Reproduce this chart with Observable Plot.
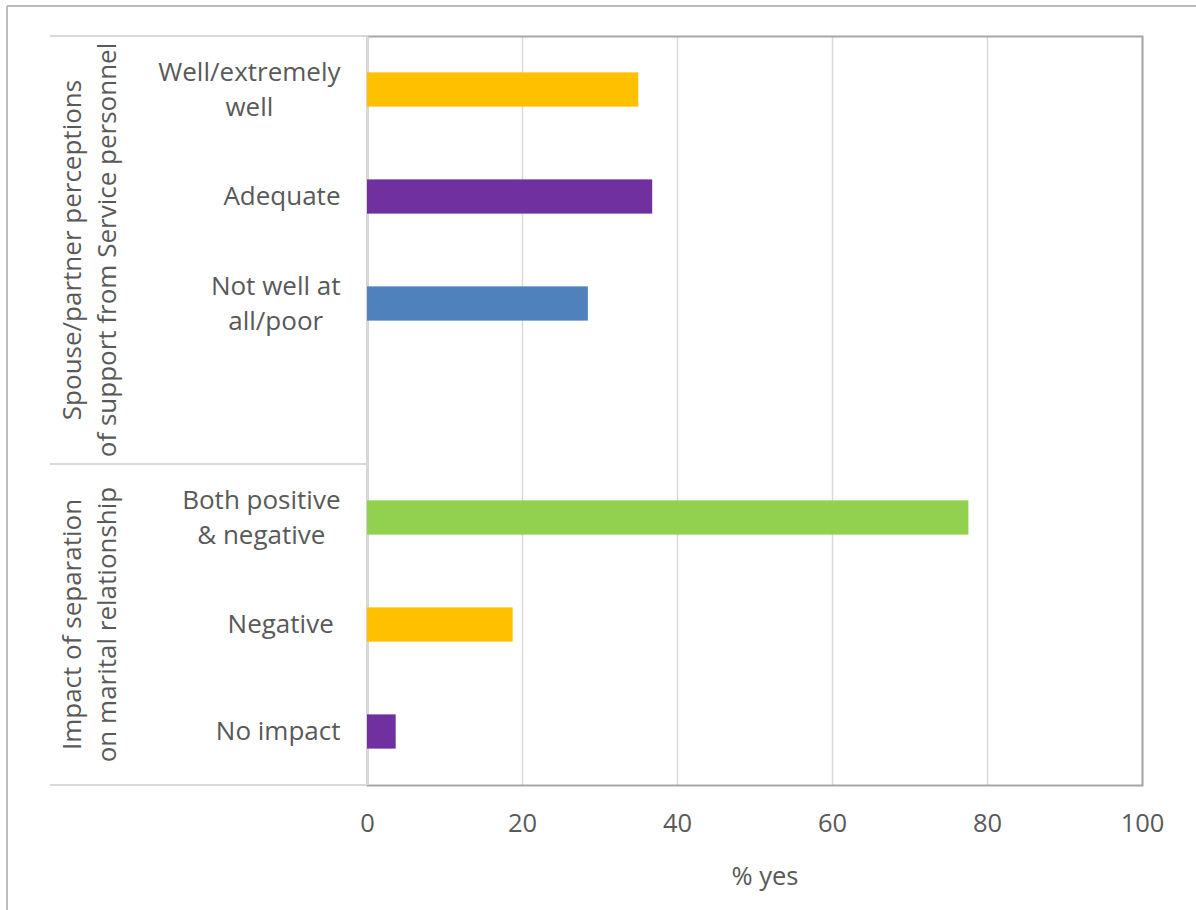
<!DOCTYPE html>
<html><head><meta charset="utf-8">
<script src="https://cdn.jsdelivr.net/npm/d3@7"></script>
<script src="https://cdn.jsdelivr.net/npm/@observablehq/plot@0.6"></script>
<style>
body{margin:0;background:#fff;}
#chart svg{display:block;}
</style></head><body><div id="chart"></div>
<script>
// Category labels (top to bottom); the empty one is the spacer slot in the first group
const categories = ["Well/extremely\nwell", "Adequate", "Not well at\nall/poor", "", "Both positive\n& negative", "Negative\u00A0", "No impact"];
const values = [35.0, 36.8, 28.5, null, 77.6, 18.8, 3.7];
const colors = ["#FFC000", "#7030A0", "#4F81BD", null, "#92D050", "#FFC000", "#7030A0"];
const groupLabels = ["Spouse/partner perceptions\nof support from Service personnel", "Impact of separation\non marital relationship"];
const groupSizes = [4, 3];
const xTicks = [0, 20, 40, 60, 80, 100];
const xLabel = "% yes";

(function () {
const rows = categories.map((c, i) => ({key: "k" + i, label: c, value: values[i], color: colors[i]}));
const textColor = "#595959";
const font = "'Open Sans', sans-serif";
const fs = 26;

const plot = Plot.plot({
  width: 1196, height: 910,
  marginLeft: 367, marginRight: 54, marginTop: 36, marginBottom: 125,
  style: {fontFamily: font, fontSize: fs + "px", color: textColor, background: "#fff"},
  x: {domain: [0, 100], label: null},
  y: {domain: rows.map(d => d.key), paddingInner: 0.68, paddingOuter: 0.34, axis: null, round: false},
  color: {type: "identity"},
  marks: [
    Plot.gridX(xTicks.slice(1), {stroke: "#d9d9d9", strokeOpacity: 1, strokeWidth: 1.5}),
    Plot.frame({stroke: "#a6a6a6", strokeWidth: 2}),
    Plot.ruleX([0], {stroke: "#d9d9d9", strokeWidth: 2}),
    Plot.barX(rows.filter(d => d.value != null), {y: "key", x: "value", fill: "color"}),
    Plot.text(rows, {y: "key", text: "label", frameAnchor: "left", dx: -27, dy: -3, textAnchor: "end", lineAnchor: "middle", lineHeight: 1.35, fontSize: fs, fill: textColor}),
    Plot.axisX(xTicks, {tickSize: 0, tickPadding: 28, fontSize: 25.5, fill: textColor, label: null}),
    Plot.text([xLabel], {frameAnchor: "bottom", dy: 91, dx: 10, fontSize: 25.5, fill: textColor, lineAnchor: "middle"})
  ]
});

document.getElementById("chart").appendChild(plot);

// center multi-line category labels within their right-aligned text box (Excel style)
const labelGroup = plot.querySelector('g[aria-label="text"]');
if (labelGroup) {
  labelGroup.querySelectorAll("text").forEach(t => {
    const spans = t.querySelectorAll("tspan");
    if (spans.length > 1) {
      let maxW = 0;
      spans.forEach(s => { maxW = Math.max(maxW, s.getComputedTextLength()); });
      t.setAttribute("text-anchor", "middle");
      t.style.textAnchor = "middle";
      spans.forEach(s => s.setAttribute("x", -maxW / 2));
    }
  });
}

// decorations: table lines for the two-level category axis, group labels, outer chart border
const svg = d3.select(plot);
const ys = plot.scale("y");
const keys = rows.map(d => d.key);
const step = ys.apply(keys[1]) - ys.apply(keys[0]);
const bw = ys.bandwidth != null ? ys.bandwidth : step * 0.32;
const slotTop = i => ys.apply(keys[i]) - (step - bw) / 2;
const plotTop = 36, plotBottom = 910 - 125, xAxis0 = 367;
const deco = svg.append("g");
let start = 0;
const bounds = [plotTop];
groupSizes.forEach((n, gi) => {
  const y0 = gi === 0 ? plotTop : slotTop(start);
  const y1 = start + n < keys.length ? slotTop(start + n) : plotBottom;
  if (start + n < keys.length) bounds.push(y1);
  const cy = (y0 + y1) / 2;
  const lines = groupLabels[gi].split("\n");
  const t = deco.append("text")
    .attr("transform", `translate(81,${cy}) rotate(-90)`)
    .attr("text-anchor", "middle")
    .attr("fill", textColor)
    .attr("font-family", font)
    .attr("font-size", fs);
  lines.forEach((l, li) => t.append("tspan").attr("x", 0).attr("dy", li === 0 ? 0 : 34.5).text(l));
  start += n;
});
bounds.push(plotBottom);
bounds.forEach(y => {
  deco.append("line").attr("x1", 50).attr("x2", xAxis0).attr("y1", y).attr("y2", y)
    .attr("stroke", "#d9d9d9").attr("stroke-width", 2);
});
deco.append("line").attr("x1", 7).attr("x2", 1196).attr("y1", 6).attr("y2", 6).attr("stroke", "#bdbdbd").attr("stroke-width", 2);
deco.append("line").attr("x1", 7).attr("x2", 7).attr("y1", 6).attr("y2", 910).attr("stroke", "#bdbdbd").attr("stroke-width", 2);
})();
</script>
</body></html>
